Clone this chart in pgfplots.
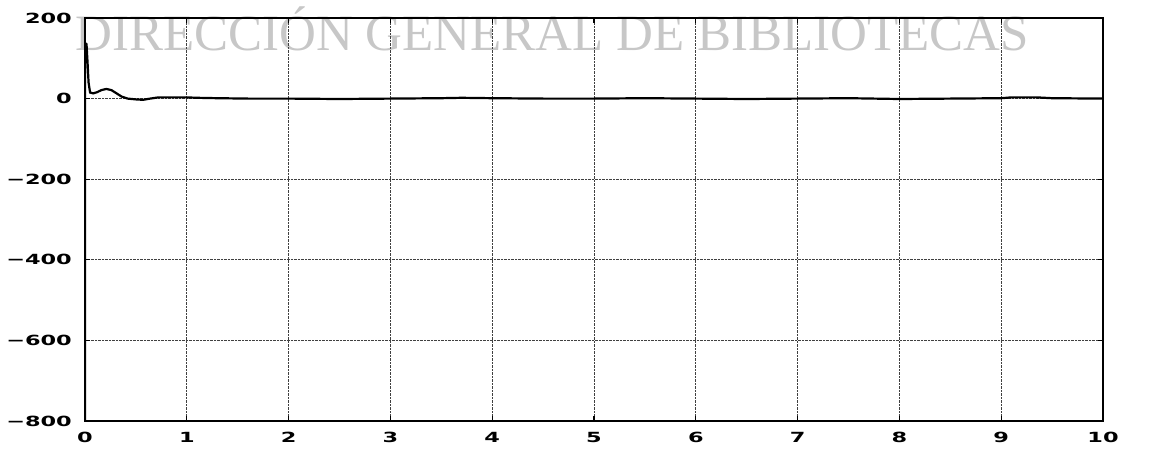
\documentclass[border=0pt]{standalone}
\usepackage{fontspec}
\usepackage{pgfplots}
\pgfplotsset{compat=1.18}
\setmainfont{Liberation Serif}
\newfontfamily\tickfont[FakeStretch=1.6]{DejaVu Sans Bold}
\newfontfamily\wmfont{Liberation Serif}
\begin{document}
\begin{tikzpicture}[x=1pt,y=1pt]
\path[use as bounding box] (0,0) rectangle (1166,448);
\node[anchor=base west, inner sep=0pt, text=black!22, font=\wmfont\fontsize{51}{51}\selectfont] at (75,397) {DIRECCIÓN GENERAL DE BIBLIOTECAS};
\begin{axis}[
  at={(85pt,27pt)}, anchor=south west,
  scale only axis, width=1018pt, height=403pt,
  xmin=0, xmax=10, ymin=-800, ymax=200,
  xtick={0,1,...,10}, ytick={-800,-600,-400,-200,0,200},
  xticklabels={0,1,2,3,4,5,6,7,8,9,10},
  yticklabels={−800,−600,−400,−200,0,200},
  tick label style={font=\tickfont\fontsize{14}{14}\selectfont, inner sep=0pt},
  xticklabel style={anchor=north, yshift=-11pt},
  yticklabel style={anchor=east, xshift=-13pt},
  grid=major,
  grid style={black!75, densely dotted, line width=0.9pt},
  axis line style={line width=2.2pt},
  major tick length=5pt,
  tick style={black, line width=1.2pt},
  clip=true,
]
\addplot[black, line width=2.2pt] coordinates {
(0,-800) (0,138) (0.015,135) (0.025,90) (0.035,40) (0.05,15) (0.08,13) (0.12,16)
(0.16,21) (0.21,24) (0.26,21) (0.31,13) (0.36,5) (0.42,0) (0.5,-2) (0.57,-3)
(0.64,0) (0.72,3) (0.85,3) (1.0,3) (1.1,2) (1.3,1) (1.6,0) (2.0,0) (2.5,-1)
(3.0,0) (3.5,1) (3.7,2) (4.0,1) (4.5,0) (5.0,0) (5.5,1) (6.0,0) (6.5,-1) (7.0,0)
(7.5,1) (8.0,-1) (8.5,0) (9.0,1) (9.1,3) (9.35,3) (9.5,1) (10,0)
};
\end{axis}
\end{tikzpicture}
\end{document}
